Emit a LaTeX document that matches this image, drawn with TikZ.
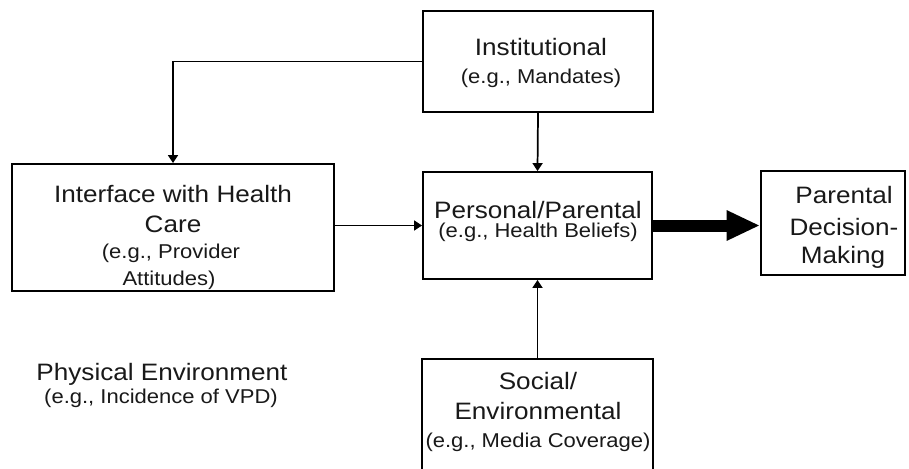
\documentclass[tikz,border=0pt]{standalone}
\usepackage{fontspec}
\setmainfont{Liberation Sans}[FakeStretch=1.1]
\usetikzlibrary{arrows.meta}
\begin{document}
\begin{tikzpicture}[x=0.75pt,y=-0.75pt,
  box/.style={draw=black, line width=1.4pt, fill=none, inner sep=0pt},
  arr/.style={draw=black, line width=1.3pt, -{Triangle[length=6pt,width=7.5pt]}},
  big/.style={draw=black, line width=9pt, -{Triangle[length=25pt,width=21pt]}},
  maintxt/.style={font=\fontsize{17.8}{20}\selectfont, inner sep=0pt, anchor=base, text=black!90},
  smalltxt/.style={font=\fontsize{15}{18}\selectfont, inner sep=0pt, anchor=base, text=black!90}]
\clip (0,0) rectangle (909,468);
\fill[white] (0,0) rectangle (909,468);
% boxes
\node[box, minimum width=172.5pt, minimum height=75.75pt] (inst) at (538,61.5) {};
\node[box, minimum width=171.75pt, minimum height=80.25pt] (pers) at (537.5,225.5) {};
\node[box, minimum width=241.5pt, minimum height=95.25pt] (iface) at (173,227.5) {};
\node[box, minimum width=108pt, minimum height=78pt] (dec) at (833,223) {};
\node[box, minimum width=173.25pt, minimum height=98.25pt] (soc) at (537.5,424.5) {};
% texts
\node[maintxt] (t1) at (541,55) {Institutional};
\node[smalltxt] (t2) at (541,83) {(e.g., Mandates)};
\node[maintxt] (t3) at (538,218) {Personal/Parental};
\node[smalltxt] (t4) at (538,237) {(e.g., Health Beliefs)};
\node[maintxt] (t5) at (173,202) {Interface with Health};
\node[maintxt] (t6) at (173,232) {Care};
\node[smalltxt] (t7) at (171,258) {(e.g., Provider};
\node[smalltxt] (t8) at (169,285) {Attitudes)};
\node[maintxt] (t9) at (844,203) {Parental};
\node[maintxt] (t10) at (844,235) {Decision-};
\node[maintxt] (t11) at (843,263) {Making};
\node[maintxt] (t12) at (538,389) {Social/};
\node[maintxt] (t13) at (538,419) {Environmental};
\node[smalltxt] (t14) at (538,447) {(e.g., Media Coverage)};
\node[maintxt] (t15) at (162,380) {Physical Environment};
\node[smalltxt] (t16) at (161,403) {(e.g., Incidence of VPD)};
% connectors
\draw[arr] (inst.south) -- (pers.north);
\draw[arr] (inst.west) -| (iface.north);
\draw[arr] (iface.east |- pers.west) -- (pers.west);
\draw[arr] (soc.north) -- (pers.south);
\draw[big] (pers.east) -- (dec.west |- pers.east);
\end{tikzpicture}
\end{document}
